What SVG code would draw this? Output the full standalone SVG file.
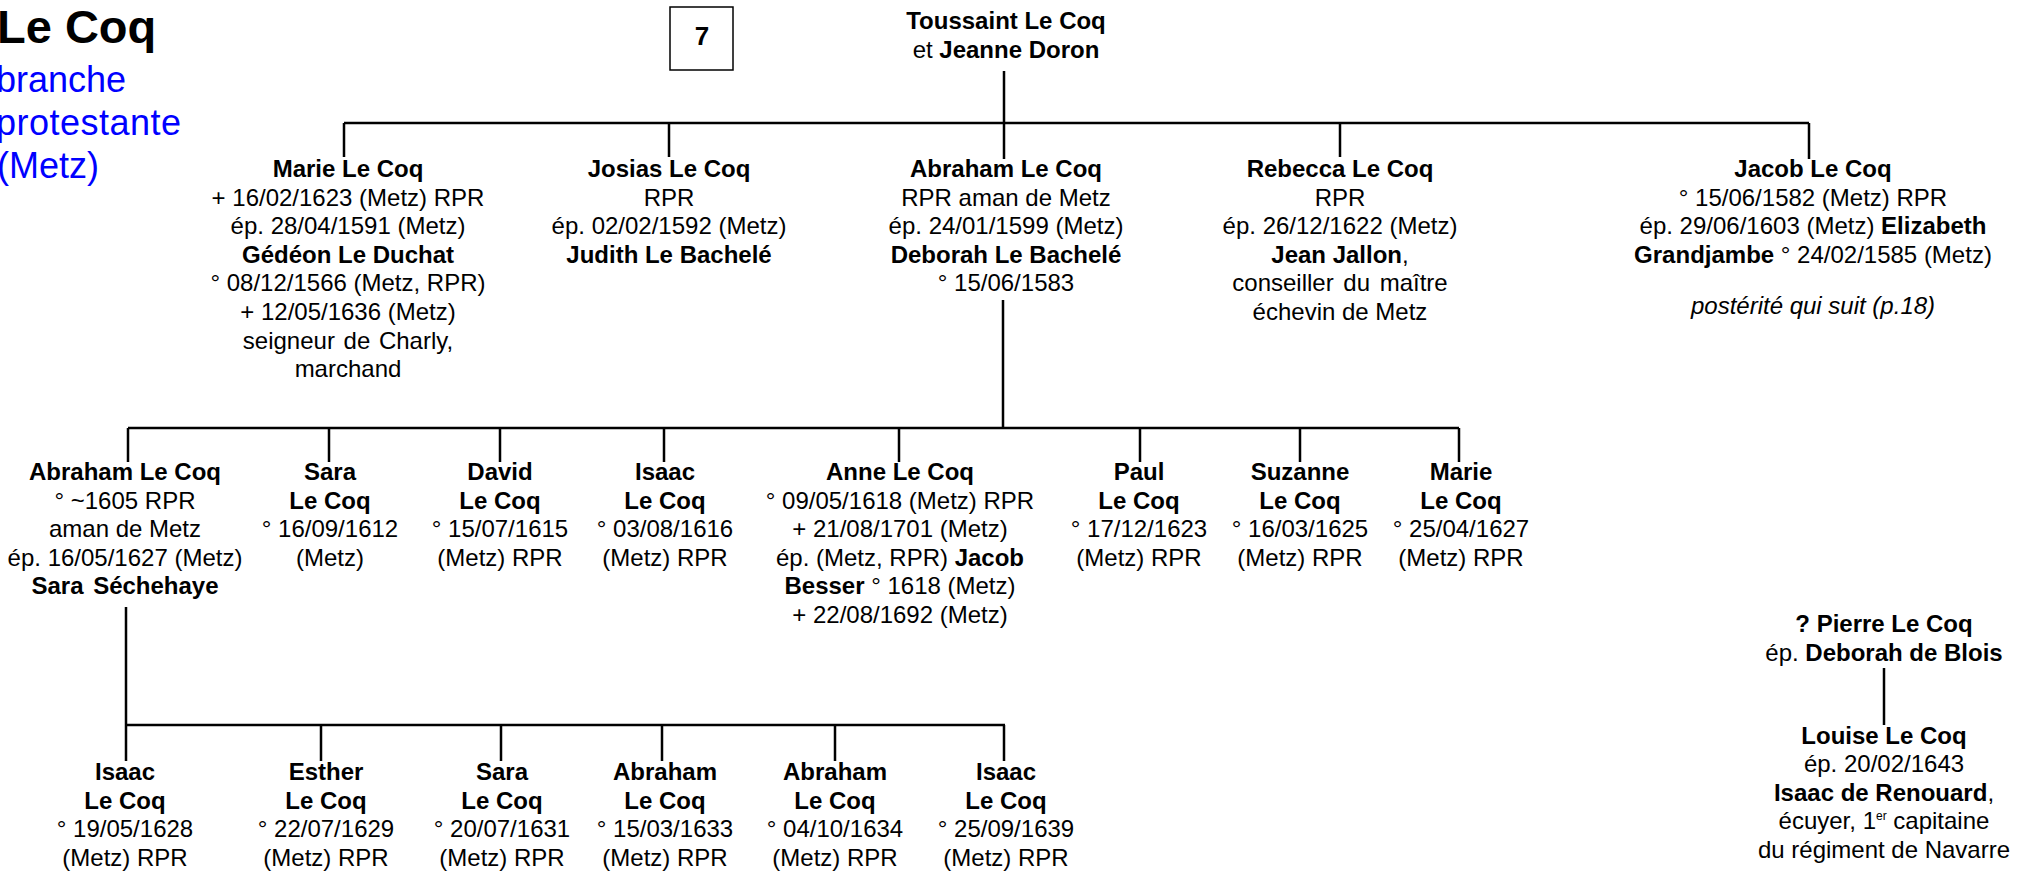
<svg xmlns="http://www.w3.org/2000/svg" width="2024" height="875" viewBox="0 0 2024 875">
<style>
.t { font-family: "Liberation Sans", Arial, sans-serif; font-size: 24px; fill: #000; text-anchor: middle; }
.b { font-weight: bold; }
.i { font-style: italic; }
.ln { stroke: #000; stroke-width: 2.5; fill: none; }
.blue { font-family: "Liberation Sans", Arial, sans-serif; font-size: 36px; fill: #0000FF; }
</style>
<rect width="2024" height="875" fill="#fff"/>
<g id="title">
<text x="-3" y="43" style="font-family:'Liberation Sans',Arial,sans-serif;font-size:47px;font-weight:bold;fill:#000">Le Coq</text>
<text class="blue" x="-4" y="92">branche</text>
<text class="blue" x="-4" y="135" letter-spacing="0.5">protestante</text>
<text class="blue" x="-3" y="178">(Metz)</text>
</g>
<g id="box7">
<rect x="670" y="7" width="63" height="63" fill="#fff" stroke="#000" stroke-width="1.5"/>
<text class="t b" x="702" y="45" style="font-size:26px">7</text>
</g>
<g id="connectors">
<path class="ln" d="M1004 71V123M344 123H1809M344 123V157M669 123V157M1004 123V159M1340 123V157M1809 123V159"/>
<path class="ln" d="M1003 300V428M128 428H1459M128 428V462M329 428V462M500 428V462M664 428V462M899 428V462M1140 428V462M1300 428V462M1459 428V462"/>
<path class="ln" d="M126 607V761M126 725H1005M321 725V761M501 725V761M662 725V761M835 725V761M1004 725V761"/>
<path class="ln" d="M1884 668V725"/>
</g>
<g id="n-toussaint">
<text class="t b" x="1006" y="29">Toussaint Le Coq</text>
<text class="t" x="1006" y="57.6">et <tspan class="b">Jeanne Doron</tspan></text>
</g>
<g id="n-marie">
<text class="t b" x="348" y="177">Marie Le Coq</text>
<text class="t" x="348" y="205.6">+ 16/02/1623 (Metz) RPR</text>
<text class="t" x="348" y="234.2">ép. 28/04/1591 (Metz)</text>
<text class="t b" x="348" y="262.8">Gédéon Le Duchat</text>
<text class="t" x="348" y="291.4">° 08/12/1566 (Metz, RPR)</text>
<text class="t" x="348" y="320">+ 12/05/1636 (Metz)</text>
<text class="t" x="348" y="348.6" word-spacing="2">seigneur de Charly,</text>
<text class="t" x="348" y="377.2">marchand</text>
</g>
<g id="n-josias">
<text class="t b" x="669" y="177">Josias Le Coq</text>
<text class="t" x="669" y="205.6">RPR</text>
<text class="t" x="669" y="234.2">ép. 02/02/1592 (Metz)</text>
<text class="t b" x="669" y="262.8">Judith Le Bachelé</text>
</g>
<g id="n-abraham">
<text class="t b" x="1006" y="177">Abraham Le Coq</text>
<text class="t" x="1006" y="205.6">RPR aman de Metz</text>
<text class="t" x="1006" y="234.2">ép. 24/01/1599 (Metz)</text>
<text class="t b" x="1006" y="262.8">Deborah Le Bachelé</text>
<text class="t" x="1006" y="291.4">°  15/06/1583</text>
</g>
<g id="n-rebecca">
<text class="t b" x="1340" y="177">Rebecca Le Coq</text>
<text class="t" x="1340" y="205.6">RPR</text>
<text class="t" x="1340" y="234.2">ép. 26/12/1622 (Metz)</text>
<text class="t" x="1340" y="262.8"><tspan class="b">Jean Jallon</tspan>,</text>
<text class="t" x="1340" y="291.4" word-spacing="3">conseiller du maître</text>
<text class="t" x="1340" y="320">échevin de Metz</text>
</g>
<g id="n-jacob">
<text class="t b" x="1813" y="177">Jacob Le Coq</text>
<text class="t" x="1813" y="205.6">° 15/06/1582 (Metz) RPR</text>
<text class="t" x="1813" y="234.2">ép. 29/06/1603 (Metz) <tspan class="b">Elizabeth</tspan></text>
<text class="t" x="1813" y="262.8"><tspan class="b">Grandjambe</tspan> ° 24/02/1585 (Metz)</text>
<text class="t i" x="1813" y="314">postérité qui suit (p.18)</text>
</g>
<g id="n-abraham2">
<text class="t b" x="125" y="480">Abraham Le Coq</text>
<text class="t" x="125" y="508.6">° ~1605 RPR</text>
<text class="t" x="125" y="537.2">aman de Metz</text>
<text class="t" x="125" y="565.8">ép. 16/05/1627 (Metz)</text>
<text class="t b" x="125" y="594.4" word-spacing="3">Sara Séchehaye</text>
</g>
<g id="n-sara">
<text class="t b" x="330" y="480">Sara</text>
<text class="t b" x="330" y="508.6">Le Coq</text>
<text class="t" x="330" y="537.2">° 16/09/1612</text>
<text class="t" x="330" y="565.8">(Metz)</text>
</g>
<g id="n-david">
<text class="t b" x="500" y="480">David</text>
<text class="t b" x="500" y="508.6">Le Coq</text>
<text class="t" x="500" y="537.2">° 15/07/1615</text>
<text class="t" x="500" y="565.8">(Metz) RPR</text>
</g>
<g id="n-isaac">
<text class="t b" x="665" y="480">Isaac</text>
<text class="t b" x="665" y="508.6">Le Coq</text>
<text class="t" x="665" y="537.2">° 03/08/1616</text>
<text class="t" x="665" y="565.8">(Metz) RPR</text>
</g>
<g id="n-anne">
<text class="t b" x="900" y="480">Anne Le Coq</text>
<text class="t" x="900" y="508.6">° 09/05/1618 (Metz) RPR</text>
<text class="t" x="900" y="537.2">+ 21/08/1701 (Metz)</text>
<text class="t" x="900" y="565.8">ép. (Metz, RPR) <tspan class="b">Jacob</tspan></text>
<text class="t" x="900" y="594.4"><tspan class="b">Besser</tspan> ° 1618 (Metz)</text>
<text class="t" x="900" y="623">+ 22/08/1692 (Metz)</text>
</g>
<g id="n-paul">
<text class="t b" x="1139" y="480">Paul</text>
<text class="t b" x="1139" y="508.6">Le Coq</text>
<text class="t" x="1139" y="537.2">° 17/12/1623</text>
<text class="t" x="1139" y="565.8">(Metz) RPR</text>
</g>
<g id="n-suzanne">
<text class="t b" x="1300" y="480">Suzanne</text>
<text class="t b" x="1300" y="508.6">Le Coq</text>
<text class="t" x="1300" y="537.2">° 16/03/1625</text>
<text class="t" x="1300" y="565.8">(Metz) RPR</text>
</g>
<g id="n-marie2">
<text class="t b" x="1461" y="480">Marie</text>
<text class="t b" x="1461" y="508.6">Le Coq</text>
<text class="t" x="1461" y="537.2">° 25/04/1627</text>
<text class="t" x="1461" y="565.8">(Metz) RPR</text>
</g>
<g id="n-isaac3a">
<text class="t b" x="125" y="780">Isaac</text>
<text class="t b" x="125" y="808.6">Le Coq</text>
<text class="t" x="125" y="837.2">° 19/05/1628</text>
<text class="t" x="125" y="865.8">(Metz) RPR</text>
</g>
<g id="n-esther">
<text class="t b" x="326" y="780">Esther</text>
<text class="t b" x="326" y="808.6">Le Coq</text>
<text class="t" x="326" y="837.2">° 22/07/1629</text>
<text class="t" x="326" y="865.8">(Metz) RPR</text>
</g>
<g id="n-sara3">
<text class="t b" x="502" y="780">Sara</text>
<text class="t b" x="502" y="808.6">Le Coq</text>
<text class="t" x="502" y="837.2">° 20/07/1631</text>
<text class="t" x="502" y="865.8">(Metz) RPR</text>
</g>
<g id="n-abraham3a">
<text class="t b" x="665" y="780">Abraham</text>
<text class="t b" x="665" y="808.6">Le Coq</text>
<text class="t" x="665" y="837.2">° 15/03/1633</text>
<text class="t" x="665" y="865.8">(Metz) RPR</text>
</g>
<g id="n-abraham3b">
<text class="t b" x="835" y="780">Abraham</text>
<text class="t b" x="835" y="808.6">Le Coq</text>
<text class="t" x="835" y="837.2">° 04/10/1634</text>
<text class="t" x="835" y="865.8">(Metz) RPR</text>
</g>
<g id="n-isaac3b">
<text class="t b" x="1006" y="780">Isaac</text>
<text class="t b" x="1006" y="808.6">Le Coq</text>
<text class="t" x="1006" y="837.2">° 25/09/1639</text>
<text class="t" x="1006" y="865.8">(Metz) RPR</text>
</g>
<g id="n-pierre">
<text class="t b" x="1884" y="632">? Pierre Le Coq</text>
<text class="t" x="1884" y="660.6">ép. <tspan class="b">Deborah de Blois</tspan></text>
</g>
<g id="n-louise">
<text class="t b" x="1884" y="744">Louise Le Coq</text>
<text class="t" x="1884" y="772.4">ép. 20/02/1643</text>
<text class="t" x="1884" y="800.8"><tspan class="b">Isaac de Renouard</tspan>,</text>
<text class="t" x="1884" y="829.2">écuyer, 1<tspan font-size="12" dy="-9">er</tspan><tspan dy="9"> capitaine</tspan></text>
<text class="t" x="1884" y="857.6">du régiment de Navarre</text>
</g>
</svg>
